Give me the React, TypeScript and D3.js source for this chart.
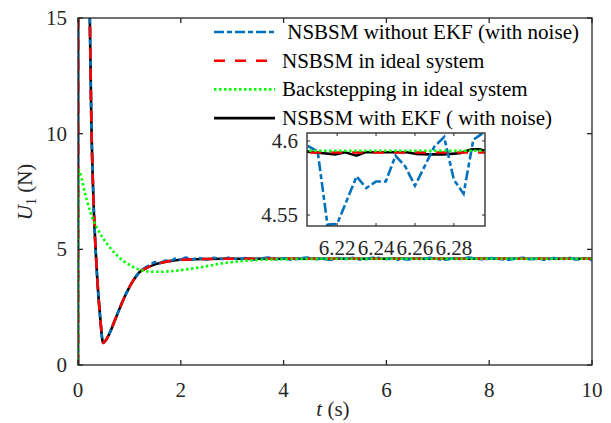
import React from 'react';
import * as d3 from 'd3';

// time / value pairs
const idealTransient: [number, number][] = [
  [0, 0], [0.005, 30], [0.2, 20], [0.23, 15], [0.26, 10.5], [0.3, 7.2], [0.36, 4.3],
  [0.43, 2.1], [0.49, 0.95], [0.55, 1.1], [0.62, 1.4], [0.72, 1.95], [0.82, 2.5],
  [0.95, 3.15], [1.08, 3.67], [1.2, 4.02],
];

const idealTail: [number, number][] = [
  [1.34, 4.2], [1.5, 4.35], [1.73, 4.47], [2.1, 4.56], [2.5, 4.585], [3, 4.5922], [10, 4.5922],
];

const backstepping: [number, number][] = [
  [0, 0], [0.003, 8.45], [0.136, 7.42], [0.17, 7.13], [0.3, 6.25], [0.4, 5.8], [0.56, 5.25],
  [0.72, 4.83], [0.88, 4.5], [0.95, 4.4], [1.21, 4.11], [1.47, 4.03], [1.6, 4.03], [1.92, 4.08],
  [2.37, 4.22], [2.83, 4.4], [3.28, 4.51], [3.87, 4.57], [4.6, 4.588], [5.5, 4.5934], [10, 4.5935],
];

const ekfTail: [number, number][] = [
  [1.34, 4.2], [1.5, 4.35], [1.73, 4.47], [2.1, 4.56], [2.5, 4.585], [3, 4.592], [6.1, 4.5925],
  [6.2048, 4.5928], [6.213, 4.5917], [6.219, 4.591], [6.2241, 4.5924], [6.23, 4.5901],
  [6.2344, 4.5924], [6.2455, 4.5924], [6.2557, 4.5924], [6.2609, 4.5912], [6.2677, 4.591],
  [6.2745, 4.591], [6.2831, 4.5917], [6.2891, 4.5944], [6.2933, 4.5944], [6.2959, 4.5934],
  [6.4, 4.592], [10, 4.592],
];

const noisyTail: [number, number][] = [
  [1.3, 4.2], [1.4, 4.33], [1.5, 4.45], [1.6, 4.4], [1.7, 4.52], [1.8, 4.5], [1.9, 4.6],
  [2.0, 4.55], [2.1, 4.64], [2.2, 4.57], [2.35, 4.62], [2.5, 4.56], [2.65, 4.63], [2.8, 4.58],
  [2.95, 4.65], [3.1, 4.57], [3.25, 4.62], [3.4, 4.55], [3.55, 4.6], [3.7, 4.64], [3.85, 4.57],
  [4.0, 4.61], [4.15, 4.55], [4.3, 4.6], [4.45, 4.64], [4.6, 4.57], [4.75, 4.6], [4.9, 4.55],
  [5.05, 4.62], [5.2, 4.58], [5.35, 4.63], [5.5, 4.56], [5.65, 4.6], [5.8, 4.65], [5.95, 4.57],
  [6.1, 4.6],
  [6.205, 4.5966], [6.21, 4.5929], [6.215, 4.5435], [6.22, 4.544], [6.225, 4.56], [6.23, 4.5761],
  [6.235, 4.5682], [6.24, 4.5727], [6.245, 4.5727], [6.25, 4.59], [6.255, 4.5828], [6.26, 4.5698],
  [6.265, 4.583], [6.27, 4.5963], [6.275, 4.6026], [6.28, 4.5738], [6.285, 4.5644], [6.29, 4.6009],
  [6.295, 4.6054],
  [6.4, 4.56], [6.55, 4.61], [6.7, 4.57], [6.85, 4.63], [7.0, 4.58], [7.15, 4.55], [7.3, 4.61],
  [7.45, 4.58], [7.6, 4.64], [7.75, 4.6], [7.9, 4.56], [8.05, 4.62], [8.2, 4.58], [8.35, 4.55],
  [8.5, 4.6], [8.65, 4.63], [8.8, 4.57], [8.95, 4.6], [9.1, 4.55], [9.25, 4.62], [9.4, 4.58],
  [9.55, 4.63], [9.7, 4.56], [9.85, 4.6], [10, 4.54],
];

const xTicks = [0, 2, 4, 6, 8, 10];
const yTicks = [0, 5, 10, 15];
const insetXTicks = [6.22, 6.24, 6.26, 6.28];
const insetYTicks = [4.55, 4.6];

const legendLabels = [
  ' NSBSM without EKF (with noise)',
  'NSBSM in ideal system',
  'Backstepping in ideal system',
  'NSBSM with EKF ( with noise)',
];

const FONT = 'Times New Roman, Liberation Serif, DejaVu Serif, serif';
const AX = '#262626';

const series = [
  { key: 'ekf', data: [...idealTransient, ...ekfTail], color: '#000000', dash: undefined as string | undefined },
  { key: 'noisy', data: [...idealTransient, ...noisyTail], color: '#0072BD', dash: '10,3,5,3' },
  { key: 'ideal', data: [...idealTransient, ...idealTail], color: '#FF0000', dash: '11,10' },
  { key: 'back', data: backstepping, color: '#00FF00', dash: '2.5,2.5' },
];
// legend order differs from draw order
const legendSeries = ['noisy', 'ideal', 'back', 'ekf'];

const App: React.FC = () => {
  const W = 611, H = 423;
  const x = d3.scaleLinear().domain([0, 10]).range([78, 592]);
  const y = d3.scaleLinear().domain([0, 15]).range([365, 18]);

  const xi = d3.scaleLinear().domain([6.2045, 6.296]).range([307, 485]);
  const yi = d3.scaleLinear().domain([4.5426, 4.6054]).range([226, 133]);

  const line = d3.line<[number, number]>()
    .x(d => x(d[0]))
    .y(d => y(d[1]))
    .curve(d3.curveMonotoneX);

  const insetLine = d3.line<[number, number]>()
    .x(d => xi(d[0]))
    .y(d => yi(d[1]))
    .curve(d3.curveLinear);

  const [x0, x1] = x.range();
  const [y0, y1] = y.range();
  const [ix0, ix1] = xi.range();
  const [iy0, iy1] = yi.range();
  const tk = 5;

  return (
    <svg width={W} height={H}
      style={{ position: 'absolute', left: 0, top: 0, background: '#fff' }}>
      <defs>
        <clipPath id="main-clip">
          <rect x={x0} y={y1} width={x1 - x0} height={y0 - y1} />
        </clipPath>
        <clipPath id="inset-clip">
          <rect x={ix0} y={iy1} width={ix1 - ix0} height={iy0 - iy1} />
        </clipPath>
      </defs>

      <rect x={x0} y={y1} width={x1 - x0} height={y0 - y1} fill="#fff" />

      {/* curves */}
      <g clipPath="url(#main-clip)">
        {series.map(s => (
          <path key={s.key} d={line(s.data) || ''} fill="none" stroke={s.color}
            strokeWidth={2.6} strokeDasharray={s.dash} />
        ))}
      </g>

      <g fontFamily={FONT}>
        {/* axes box + ticks */}
        <rect x={x0} y={y1} width={x1 - x0} height={y0 - y1} fill="none" stroke={AX} strokeWidth={1.3} />
        {xTicks.map(t => (
          <g key={'xt' + t}>
            <line x1={x(t)} x2={x(t)} y1={y0} y2={y0 - tk} stroke={AX} strokeWidth={1.3} />
            <line x1={x(t)} x2={x(t)} y1={y1} y2={y1 + tk} stroke={AX} strokeWidth={1.3} />
            <text x={x(t)} y={397} textAnchor="middle" fontSize={21} fill={AX} fontFamily={FONT}>{t}</text>
          </g>
        ))}
        {yTicks.map(t => (
          <g key={'yt' + t}>
            <line x1={x0} x2={x0 + tk} y1={y(t)} y2={y(t)} stroke={AX} strokeWidth={1.3} />
            <line x1={x1} x2={x1 - tk} y1={y(t)} y2={y(t)} stroke={AX} strokeWidth={1.3} />
            <text x={67} y={y(t) + 7} textAnchor="end" fontSize={21} fill={AX} fontFamily={FONT}>{t}</text>
          </g>
        ))}

        {/* axis labels */}
        <text transform="translate(32,192) rotate(-90)" textAnchor="middle" fontSize={21} fill={AX}
          fontFamily={FONT}>
          <tspan fontStyle="italic">U</tspan>
          <tspan fontSize={14} dy={4}>1</tspan>
          <tspan dy={-4}> (N)</tspan>
        </text>
        <text x={333} y={416} textAnchor="middle" fontSize={21} fill={AX} fontFamily={FONT}>
          <tspan fontStyle="italic">t</tspan>
          <tspan> (s)</tspan>
        </text>

        {/* legend */}
        {legendSeries.map((k, i) => {
          const s = series.find(d => d.key === k)!;
          const ry = 32 + i * 28.7;
          return (
            <g key={'lg' + k}>
              <line x1={214} x2={275} y1={ry} y2={ry} stroke={s.color} strokeWidth={2.6}
                strokeDasharray={s.dash} />
              <text x={282} y={ry + 7} fontSize={21} fill="#000" fontFamily={FONT}
                style={{ whiteSpace: 'pre' }}>
                {legendLabels[i]}
              </text>
            </g>
          );
        })}

        {/* inset */}
        <rect x={ix0} y={iy1} width={ix1 - ix0} height={iy0 - iy1} fill="#fff" />
        <g clipPath="url(#inset-clip)">
          {series.map(s => (
            <path key={'i' + s.key} d={insetLine(s.data.filter(d => d[0] >= 3)) || ''}
              fill="none" stroke={s.color} strokeWidth={2.6} strokeDasharray={s.dash} />
          ))}
        </g>
        <rect x={ix0} y={iy1} width={ix1 - ix0} height={iy0 - iy1} fill="none" stroke={AX} strokeWidth={1.3} />
        {insetXTicks.map(t => (
          <g key={'ixt' + t}>
            <line x1={xi(t)} x2={xi(t)} y1={iy0} y2={iy0 - 3} stroke={AX} strokeWidth={1} />
            <line x1={xi(t)} x2={xi(t)} y1={iy1} y2={iy1 + 3} stroke={AX} strokeWidth={1} />
            <text x={xi(t)} y={255} textAnchor="middle" fontSize={21} fill={AX} fontFamily={FONT}>{t}</text>
          </g>
        ))}
        {insetYTicks.map(t => (
          <g key={'iyt' + t}>
            <line x1={ix0} x2={ix0 + 3} y1={yi(t)} y2={yi(t)} stroke={AX} strokeWidth={1} />
            <line x1={ix1} x2={ix1 - 3} y1={yi(t)} y2={yi(t)} stroke={AX} strokeWidth={1} />
            <text x={298} y={yi(t) + 7} textAnchor="end" fontSize={21} fill={AX} fontFamily={FONT}>{t}</text>
          </g>
        ))}
      </g>
    </svg>
  );
};

export default App;
